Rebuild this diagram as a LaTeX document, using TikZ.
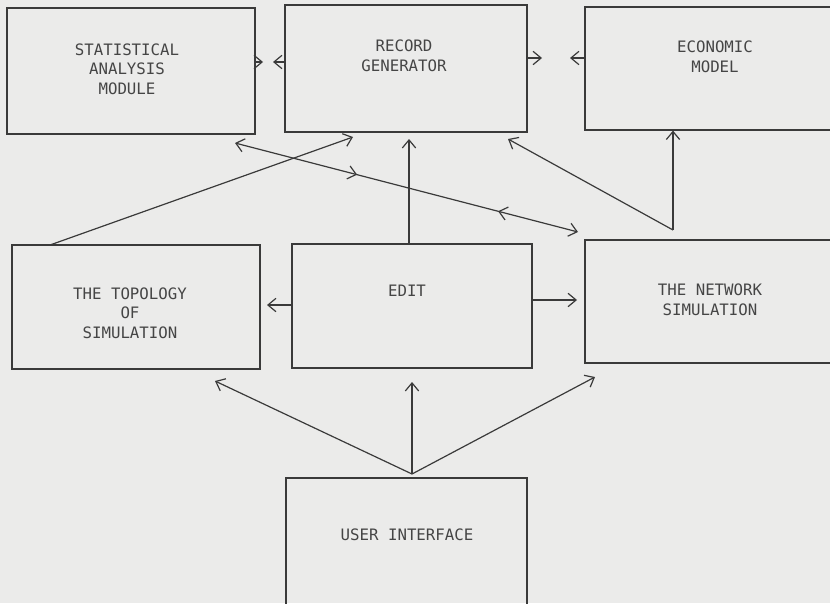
\documentclass[tikz,border=0pt]{standalone}
\usepackage{fontspec}
\setmonofont{DejaVu Sans Mono}
\usetikzlibrary{arrows.meta,fit,decorations.markings}
\definecolor{paper}{HTML}{EBEBEA}
\definecolor{ink}{HTML}{3A3A3A}
\definecolor{txt}{HTML}{454545}
\begin{document}
\begin{tikzpicture}[x=0.75pt,y=-0.75pt,
  box/.style={draw=ink, line width=0.9pt, inner sep=0pt},
  lbl/.style={text=txt, align=center, inner sep=0pt,
    font=\ttfamily\fontsize{11.8}{14.6}\selectfont},
  arr/.style={draw=ink, line width=0.9pt, -{Straight Barb[length=6pt,width=10pt]}},
  barr/.style={draw=ink, line width=0.9pt, {Straight Barb[length=6pt,width=10pt]}-{Straight Barb[length=6pt,width=10pt]}},
  midmarks/.style={postaction={decorate}, decoration={markings,
    mark=at position 0.356 with {\arrow[ink]{Straight Barb[length=6pt,width=10pt]}},
    mark=at position 0.767 with {\arrowreversed[ink]{Straight Barb[length=6pt,width=10pt]}}}}
]
\useasboundingbox (0,0) rectangle (830,603);
\clip (0,0) rectangle (830,603);
\fill[paper] (0,0) rectangle (830,603);

% boxes
\node[box, fit={(7,8) (255,134)}] (stat) {};
\node[box, fit={(285,5) (527,132)}] (rec) {};
\node[box, fit={(585,7) (850,130)}] (eco) {};
\node[box, fit={(12,245) (260,369)}] (topo) {};
\node[box, fit={(292,244) (532,368)}] (edit) {};
\node[box, fit={(585,240) (850,363)}] (net) {};
\node[box, fit={(286,478) (527,610)}] (ui) {};

% labels
\node[lbl] (statT) at (127,69) {STATISTICAL\\ANALYSIS\\MODULE};
\node[lbl] (recT) at (404,56) {RECORD\\GENERATOR};
\node[lbl] (ecoT) at (715,57) {ECONOMIC\\MODEL};
\node[lbl] (topoT) at (130,313) {THE TOPOLOGY\\OF\\SIMULATION};
\node[lbl] (editT) at (407,291) {EDIT};
\node[lbl] (netT) at (710,300) {THE NETWORK\\SIMULATION};
\node[lbl] (uiT) at (407,535) {USER INTERFACE};

% coordinates
\coordinate (sr1) at (263,62);
\coordinate (sr2) at (273,62);
\coordinate (re1) at (542,58);
\coordinate (re2) at (570,58);
\coordinate (et) at (267,305);
\coordinate (en) at (577,300);
\coordinate (er) at (409,139);
\coordinate (tp) at (50,245);
\coordinate (rt) at (353,137);
\coordinate (sn1) at (235,143);
\coordinate (sn2) at (578,232);
\coordinate (j1) at (673,230);
\coordinate (rb) at (508,139);
\coordinate (j2) at (412,474);
\coordinate (ut) at (215,381);
\coordinate (ue) at (412,382);
\coordinate (un) at (595,377);

% connectors
\draw[arr] (stat.east |- sr1) -- (sr1);
\draw[arr] (rec.west |- sr2) -- (sr2);
\draw[arr] (rec.east |- re1) -- (re1);
\draw[arr] (eco.west |- re2) -- (re2);
\draw[arr] (edit.west |- et) -- (et);
\draw[arr] (edit.east |- en) -- (en);
\draw[arr] (er |- edit.north) -- (er);
\draw[arr] (tp) -- (rt);
\draw[barr, midmarks] (sn1) -- (sn2);
\draw[arr] (j1) -- (rb);
\draw[arr] (j1) -- (j1 |- eco.south);
\draw[arr] (j2) -- (ut);
\draw[arr] (j2) -- (ue);
\draw[arr] (j2) -- (un);
\end{tikzpicture}
\end{document}
